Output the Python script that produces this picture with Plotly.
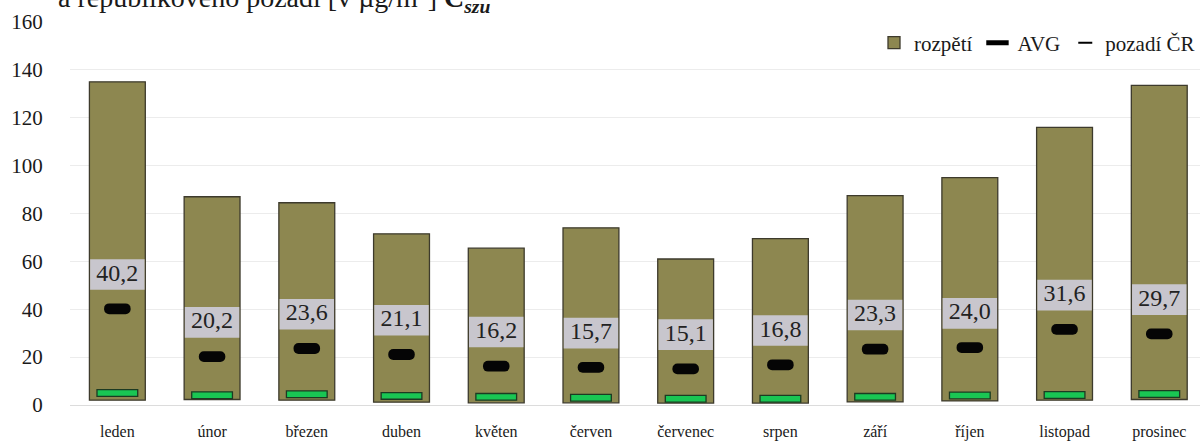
import plotly.graph_objects as go

months = ["leden", "únor", "březen", "duben", "květen", "červen",
          "červenec", "srpen", "září", "říjen", "listopad", "prosinec"]
range_min = [2.0, 2.3, 2.0, 1.2, 0.9, 0.9, 0.8, 0.8, 1.3, 1.7, 2.0, 2.3]
range_max = [135.0, 87.0, 84.5, 71.5, 65.5, 74.0, 61.0, 69.5, 87.5, 95.0, 116.0, 133.5]
avg = [40.2, 20.2, 23.6, 21.1, 16.2, 15.7, 15.1, 16.8, 23.3, 24.0, 31.6, 29.7]
pozadi = [5.0, 4.1, 4.5, 3.8, 3.4, 3.0, 2.6, 2.6, 3.4, 4.0, 4.2, 4.6]
y_ticks = [0, 20, 40, 60, 80, 100, 120, 140, 160]

FONT = "Liberation Serif"
OLIVE = "rgb(141,135,80)"

x = list(range(len(months)))
avg_labels = [f"{v:.1f}".replace(".", ",") for v in avg]

fig = go.Figure()

# range bars
fig.add_trace(go.Bar(
    x=x, y=[b - a for a, b in zip(range_min, range_max)], base=range_min,
    width=0.59, name="rozpětí",
    marker=dict(color=OLIVE, line=dict(color="#3d3a2c", width=1.3)),
    hoverinfo="skip"))

# grey label boxes (label positioned above the average)
fig.add_trace(go.Bar(
    x=x, y=[12.8] * len(avg), base=[v + 7.9 for v in avg],
    width=0.575, showlegend=False,
    marker=dict(color="rgba(204,202,212,0.94)", line=dict(width=0)),
    hoverinfo="skip"))

# background concentration marks
fig.add_trace(go.Bar(
    x=x, y=[2.8] * len(pozadi), base=[v - 1.4 for v in pozadi],
    width=0.43, showlegend=False,
    marker=dict(color="#19c653", line=dict(color="#1c3a22", width=1.3)),
    hoverinfo="skip"))

# average marks
fig.add_trace(go.Bar(
    x=x, y=[4.5] * len(avg), base=[v - 2.25 for v in avg],
    width=0.28, showlegend=False,
    marker=dict(color="#050505", line=dict(width=0), cornerradius=5),
    hoverinfo="skip"))

# average value labels
fig.add_trace(go.Scatter(
    x=x, y=[v + 14.3 for v in avg], mode="text", text=avg_labels,
    textfont=dict(family=FONT, size=24, color="#222222"),
    showlegend=False, hoverinfo="skip"))

# legend entries
fig.add_trace(go.Scatter(
    x=[None], y=[None], mode="markers", name="AVG",
    marker=dict(symbol="line-ew", size=16, color="black",
                line=dict(color="black", width=8))))
fig.add_trace(go.Scatter(
    x=[None], y=[None], mode="markers", name="pozadí ČR",
    marker=dict(symbol="line-ew", size=10, color="black",
                line=dict(color="black", width=2))))

fig.update_layout(
    width=1200, height=441,
    margin=dict(l=70, r=0, t=22, b=33),
    barmode="overlay",
    plot_bgcolor="white", paper_bgcolor="white",
    font=dict(family=FONT, color="#1a1a1a"),
    showlegend=True,
    legend=dict(orientation="h", x=1.0, xanchor="right", y=0.945, yanchor="middle",
                font=dict(family=FONT, size=21, color="#1a1a1a"),
                bgcolor="rgba(0,0,0,0)", itemwidth=30, tracegroupgap=0),
    xaxis=dict(range=[-0.5, 11.43], tickmode="array", tickvals=x, ticktext=months,
               tickfont=dict(family=FONT, size=16, color="#1a1a1a"),
               ticks="outside", ticklen=12, tickcolor="rgba(0,0,0,0)",
               showgrid=False, showline=False, zeroline=False),
    yaxis=dict(range=[0, 160], tickmode="array", tickvals=y_ticks,
               tickfont=dict(family=FONT, size=21, color="#1a1a1a"),
               ticks="outside", ticklen=22, tickcolor="rgba(0,0,0,0)",
               showgrid=True, gridcolor="#ececec", gridwidth=1,
               zeroline=True, zerolinecolor="#dcdcdc", zerolinewidth=1,
               showline=False),
    annotations=[dict(
        xref="paper", yref="paper", x=-0.012, y=1.0 + 3.5 / 386, xanchor="left", yanchor="bottom",
        text="a republikového pozadí [v µg/m<sup>3</sup>] <b>C</b><sub><b><i>szu</i></b></sub>",
        showarrow=False, font=dict(family=FONT, size=28, color="#1a1a1a"))],
)

fig.write_html("out.html")
